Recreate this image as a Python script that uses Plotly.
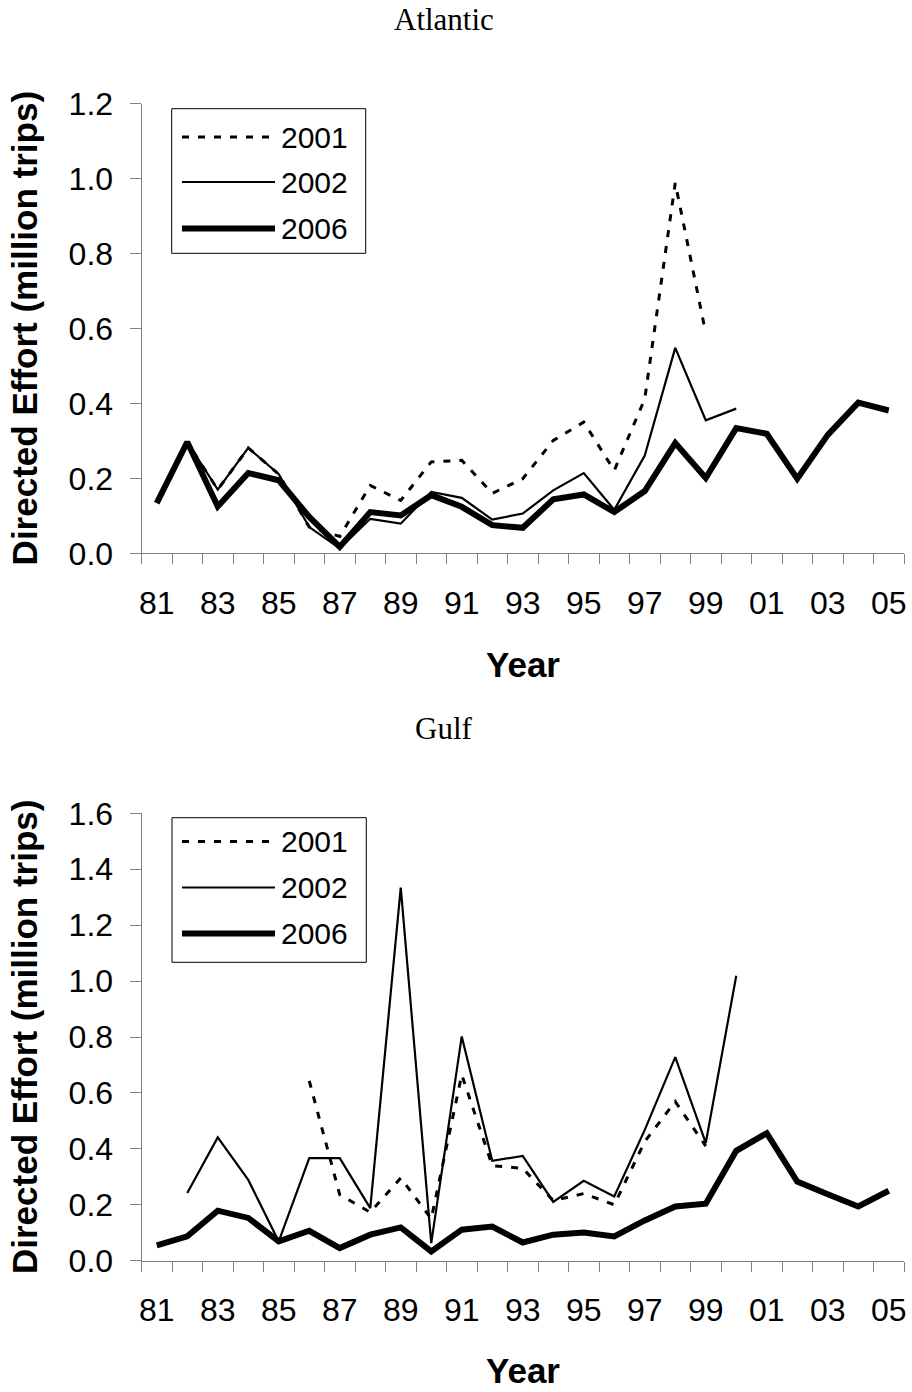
import plotly.graph_objects as go

# ---- data -------------------------------------------------------------
YEARS = list(range(1981, 2006))
YEAR_LABELS = ["81", "82", "83", "84", "85", "86", "87", "88", "89", "90",
               "91", "92", "93", "94", "95", "96", "97", "98", "99", "00",
               "01", "02", "03", "04", "05"]
SERIES_NAMES = ["2001", "2002", "2006"]

atl_2001 = [0.135, 0.297, 0.170, 0.281, 0.211, 0.070, 0.045, 0.181, 0.141, 0.244,
            0.248, 0.160, 0.199, 0.301, 0.350, 0.221, 0.412, 0.988, 0.587,
            None, None, None, None, None, None]
atl_2002 = [0.135, 0.297, 0.170, 0.281, 0.211, 0.070, 0.013, 0.092, 0.079, 0.164,
            0.148, 0.090, 0.106, 0.168, 0.214, 0.116, 0.261, 0.548, 0.355, 0.386,
            None, None, None, None, None]
atl_2006 = [0.134, 0.297, 0.125, 0.214, 0.195, 0.097, 0.017, 0.110, 0.101, 0.155,
            0.124, 0.075, 0.068, 0.144, 0.157, 0.110, 0.166, 0.294, 0.201, 0.334,
            0.319, 0.199, 0.316, 0.402, 0.381]

gulf_2001 = [None, None, None, None, None, 0.643, 0.236, 0.173, 0.296, 0.150,
             0.665, 0.340, 0.330, 0.215, 0.240, 0.200, 0.426, 0.569, 0.410,
             None, None, None, None, None, None]
gulf_2002 = [None, 0.242, 0.441, 0.289, 0.069, 0.367, 0.367, 0.188, 1.334, 0.063,
             0.802, 0.357, 0.375, 0.210, 0.286, 0.230, 0.468, 0.728, 0.421, 1.019,
             None, None, None, None, None]
gulf_2006 = [0.055, 0.087, 0.179, 0.153, 0.069, 0.107, 0.045, 0.093, 0.119, 0.033,
             0.111, 0.122, 0.065, 0.093, 0.101, 0.087, 0.144, 0.194, 0.204, 0.393,
             0.456, 0.283, 0.238, 0.194, 0.250]

# ---- page geometry (pixels) --------------------------------------------
W, H = 912, 1392


def px(x):
    return x / W


def py(y):
    return 1 - y / H


STYLES = {
    "2001": dict(color="black", width=3, dash="7px,9px"),
    "2002": dict(color="black", width=2.2),
    "2006": dict(color="black", width=6),
}

AXIS_GRAY = "#808080"
SANS = "Liberation Sans, Arial, sans-serif"
SERIF = "Liberation Serif, Times New Roman, serif"

fig = go.Figure()

panels = [
    dict(xa="x", ya="y", data=[atl_2001, atl_2002, atl_2006]),
    dict(xa="x2", ya="y2", data=[gulf_2001, gulf_2002, gulf_2006]),
]
for p in panels:
    for name, vals in zip(SERIES_NAMES, p["data"]):
        fig.add_trace(go.Scatter(
            x=YEARS, y=vals, mode="lines", name=name,
            line=STYLES[name], connectgaps=False, showlegend=False,
            xaxis=p["xa"], yaxis=p["ya"],
        ))

x_common = dict(
    range=[1980.5, 2005.5],
    tickmode="array",
    tickvals=YEARS[::2],
    ticktext=YEAR_LABELS[::2],
    ticks="outside", ticklen=0, tickcolor="rgba(0,0,0,0)",
    ticklabelstandoff=21,
    minor=dict(tick0=1980.5, dtick=1, ticks="outside", ticklen=10,
               tickcolor=AXIS_GRAY, tickwidth=1, showgrid=False),
    showline=True, linecolor=AXIS_GRAY, linewidth=1,
    showgrid=False, zeroline=False, automargin=False,
    tickfont=dict(family=SANS, size=32, color="black"),
    domain=[px(141.5), px(904)],
    fixedrange=True,
)
y_common = dict(
    tickformat=".1f", dtick=0.2, tick0=0,
    ticks="outside", ticklen=11, tickcolor=AXIS_GRAY, tickwidth=1,
    ticklabelstandoff=10,
    showline=True, linecolor=AXIS_GRAY, linewidth=1,
    showgrid=False, zeroline=False, automargin=False,
    tickfont=dict(family=SANS, size=32, color="black"),
    fixedrange=True,
)

fig.update_layout(
    width=W, height=H,
    margin=dict(l=0, r=0, t=0, b=0, autoexpand=False),
    paper_bgcolor="white", plot_bgcolor="white",
    showlegend=False,
    xaxis=dict(**x_common, anchor="y"),
    yaxis=dict(**y_common, range=[0, 1.2], anchor="x",
               domain=[py(553.3), py(103.5)]),
    xaxis2=dict(**x_common, anchor="y2"),
    yaxis2=dict(**y_common, range=[0, 1.6], anchor="x2",
                domain=[py(1260.7), py(813.3)]),
)

annotations = []
shapes = []

# panel titles, axis titles
for title, ty, y_mid, year_y in [("Atlantic", 19, 328.4, 664.5),
                                 ("Gulf", 729, 1037, 1370)]:
    annotations.append(dict(
        text=title, xref="paper", yref="paper", x=px(444), y=py(ty),
        xanchor="center", yanchor="middle", showarrow=False,
        font=dict(family=SERIF, size=31, color="black")))
    annotations.append(dict(
        text="<b>Directed Effort (million trips)</b>", xref="paper", yref="paper",
        x=px(24), y=py(y_mid), xanchor="center", yanchor="middle",
        textangle=-90, showarrow=False,
        font=dict(family=SANS, size=35, color="black")))
    annotations.append(dict(
        text="<b>Year</b>", xref="paper", yref="paper",
        x=px(522.5), y=py(year_y), xanchor="center", yanchor="middle",
        showarrow=False, font=dict(family=SANS, size=35, color="black")))

# legend boxes with line samples
for box, rows in [((171.7, 108.7, 365.7, 253.3), (137, 182, 228.5)),
                  ((172, 817.7, 366.3, 962.3), (841.5, 887.5, 933.5))]:
    x0, y0, x1, y1 = box
    shapes.append(dict(type="rect", xref="paper", yref="paper",
                       x0=px(x0), x1=px(x1), y0=py(y1), y1=py(y0),
                       line=dict(color="black", width=1), fillcolor="white",
                       layer="below"))
    for name, ry in zip(SERIES_NAMES, rows):
        st = STYLES[name]
        shapes.append(dict(type="line", xref="paper", yref="paper",
                           x0=px(182), x1=px(275), y0=py(ry), y1=py(ry),
                           line=dict(color=st["color"], width=st["width"],
                                     dash=st.get("dash", "solid")),
                           layer="above"))
        annotations.append(dict(
            text=name, xref="paper", yref="paper", x=px(279), y=py(ry),
            xanchor="left", yanchor="middle", showarrow=False,
            font=dict(family=SANS, size=30, color="black")))

fig.update_layout(annotations=annotations, shapes=shapes)

fig.write_html("out.html")
